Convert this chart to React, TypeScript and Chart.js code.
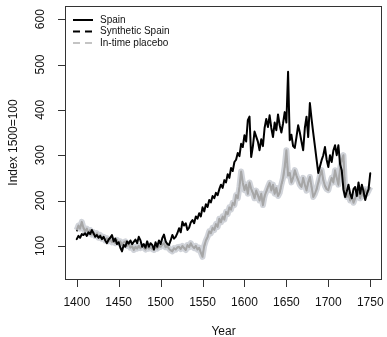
import { useEffect, useRef } from "react";
import { Chart, registerables } from "chart.js";

Chart.register(...registerables);

// Annual index series, sampled every second year from 1400 to 1750 (1500 = 100)
const firstYear = 1400;
const yearStep = 2;

const spain = [
  115, 122, 118, 126, 124,
  128, 122, 130, 126, 135,
  128, 120, 124, 118, 122,
  115, 120, 112, 106, 114,
  118, 124, 110, 116, 104,
  108, 96, 88, 102, 98,
  110, 105, 112, 104, 109,
  114, 106, 120, 112, 98,
  104, 96, 110, 98, 106,
  102, 92, 108, 98, 112,
  104, 117, 125, 110, 104,
  102, 112, 124, 116, 120,
  128, 139, 130, 153, 145,
  150, 135, 140, 152, 157,
  150, 165, 160, 172, 165,
  185, 176, 192, 186, 201,
  196, 210, 205, 217, 212,
  225, 235, 228, 245, 240,
  258, 250, 272, 265, 285,
  290, 305, 298, 325, 318,
  344, 330, 377, 385, 296,
  319, 352, 341, 330, 311,
  335, 320, 360, 380, 362,
  388, 360, 340, 372, 355,
  390, 366, 350, 370, 395,
  372, 484, 333, 345, 320,
  316, 340, 366, 350, 330,
  311, 360, 385, 340, 415,
  380, 349, 320, 290, 261,
  275, 289, 300, 318, 290,
  274, 300, 285, 310, 322,
  300, 322, 280, 267, 225,
  208, 220, 235, 215, 205,
  225, 230, 210, 240, 215,
  235, 220, 201, 215, 225,
  260,
];

const syntheticSpain = [
  132, 142, 140, 150, 138,
  134, 136, 130, 132, 127,
  128, 124, 126, 120, 122,
  118, 118, 114, 115, 112,
  112, 110, 110, 108, 111,
  108, 108, 104, 106, 108,
  102, 102, 98, 99, 93,
  96, 95, 98, 96, 97,
  95, 93, 97, 95, 96,
  94, 92, 96, 95, 99,
  99, 101, 104, 98, 99,
  95, 91, 90, 94, 93,
  96, 97, 94, 98, 96,
  93, 100, 98, 104, 100,
  96, 99, 93, 95, 87,
  80, 98, 110, 118, 130,
  130, 138, 136, 146, 144,
  157, 154, 163, 160, 172,
  172, 182, 182, 192, 192,
  208, 207, 228, 255, 238,
  225, 232, 218, 237, 227,
  216, 207, 220, 212, 203,
  212, 193, 208, 219, 228,
  236, 224, 232, 217, 226,
  212, 218, 232, 248, 272,
  300, 258, 259, 242, 249,
  263, 254, 246, 236, 232,
  247, 236, 225, 238, 249,
  230, 211, 215, 224, 237,
  252, 262, 246, 234, 227,
  225, 236, 247, 241, 263,
  249, 237, 267, 285, 295,
  228, 210, 214, 203, 210,
  198, 205, 213, 215, 207,
  218, 211, 222, 216, 221,
  228,
];

const placebo = [
  135, 145, 138, 153, 140,
  132, 138, 128, 135, 125,
  130, 122, 128, 118, 124,
  116, 120, 112, 117, 110,
  114, 108, 112, 106, 113,
  106, 110, 102, 108, 110,
  100, 104, 96, 100, 91,
  98, 94, 100, 95, 99,
  96, 92, 99, 94, 97,
  93, 91, 98, 94, 100,
  98, 103, 106, 97, 100,
  94, 90, 88, 95, 92,
  97, 98, 93, 100, 95,
  91, 102, 97, 106, 99,
  95, 100, 92, 96, 85,
  76, 100, 112, 120, 132,
  128, 140, 135, 148, 142,
  160, 152, 165, 158, 175,
  170, 185, 180, 195, 190,
  212, 205, 230, 264, 240,
  223, 235, 215, 240, 226,
  217, 205, 222, 212, 200,
  215, 190, 210, 220, 230,
  239, 222, 235, 215, 228,
  210, 217, 235, 250, 275,
  311, 255, 261, 240, 250,
  267, 255, 245, 235, 230,
  250, 235, 222, 240, 252,
  230, 208, 215, 225, 240,
  255, 267, 245, 232, 225,
  223, 238, 250, 240, 267,
  250, 235, 270, 290, 300,
  225, 208, 215, 200, 210,
  195, 205, 215, 217, 205,
  220, 210, 225, 215, 222,
  230,
];

const xTicks = [1400, 1450, 1500, 1550, 1600, 1650, 1700, 1750];
const yTicks = [100, 200, 300, 400, 500, 600];
const xTitle = "Year";
const yTitle = "Index 1500=100";
const legendLabels = ["Spain", "Synthetic Spain", "In-time placebo"];

const FONT = '"Liberation Sans", Arial, Helvetica, sans-serif';

const years = spain.map((_, i) => firstYear + i * yearStep);
const toPoints = (vals: number[]) => vals.map((y, i) => ({ x: years[i], y }));

// Base-graphics look: framed plot box, outward ticks, rotated y labels, legend
const baseGraphics = {
  id: "baseGraphics",
  afterDraw(chart: any) {
    const { ctx, chartArea: a, scales } = chart;
    const xs = scales.x;
    const ys = scales.y;
    ctx.save();

    ctx.strokeStyle = "#333";
    ctx.lineWidth = 1;
    ctx.setLineDash([]);
    const L = Math.round(a.left);
    const T = Math.round(a.top);
    const R = Math.round(a.right);
    const B = Math.round(a.bottom);
    ctx.strokeRect(L + 0.5, T + 0.5, R - L - 1, B - T);

    ctx.beginPath();
    for (const t of xTicks) {
      const px = Math.round(xs.getPixelForValue(t)) + 0.5;
      ctx.moveTo(px, B);
      ctx.lineTo(px, B + 8);
    }
    for (const t of yTicks) {
      const py = Math.round(ys.getPixelForValue(t)) + 0.5;
      ctx.moveTo(L, py);
      ctx.lineTo(L - 7, py);
    }
    ctx.stroke();

    ctx.fillStyle = "#111";
    ctx.font = `12px ${FONT}`;
    ctx.textAlign = "center";
    ctx.textBaseline = "middle";
    for (const t of xTicks) {
      ctx.fillText(String(t), xs.getPixelForValue(t), B + 24);
    }
    for (const t of yTicks) {
      ctx.save();
      ctx.translate(L - 24, ys.getPixelForValue(t));
      ctx.rotate(-Math.PI / 2);
      ctx.fillText(String(t), 0, 0);
      ctx.restore();
    }

    ctx.fillText(xTitle, (a.left + a.right) / 2, B + 53);
    ctx.save();
    ctx.translate(L - 51, (a.top + a.bottom) / 2);
    ctx.rotate(-Math.PI / 2);
    ctx.fillText(yTitle, 0, 0);
    ctx.restore();

    // legend
    const styles = [
      { color: "#000", dash: [] as number[] },
      { color: "#000", dash: [7, 5] },
      { color: "#c4c4c4", dash: [7, 5] },
    ];
    ctx.font = `10px ${FONT}`;
    ctx.textAlign = "left";
    ctx.lineWidth = 2;
    legendLabels.forEach((label, i) => {
      const y = T + 14 + i * 11.5;
      ctx.strokeStyle = styles[i].color;
      ctx.setLineDash(styles[i].dash);
      ctx.beginPath();
      ctx.moveTo(L + 8, y);
      ctx.lineTo(L + 28, y);
      ctx.stroke();
      ctx.fillStyle = "#111";
      ctx.fillText(label, L + 35, y);
    });

    ctx.restore();
  },
};

export default function App() {
  const canvasRef = useRef<HTMLCanvasElement | null>(null);

  useEffect(() => {
    document.body.style.margin = "0";
    const canvas = canvasRef.current;
    if (!canvas) return;
    const chart = new Chart(canvas, {
      type: "line",
      data: {
        datasets: [
          {
            label: legendLabels[0],
            data: toPoints(spain),
            borderColor: "#000",
            borderWidth: 2,
            borderJoinStyle: "round",
            borderCapStyle: "round",
            pointRadius: 0,
            tension: 0,
          },
          {
            label: legendLabels[2],
            data: toPoints(placebo),
            borderColor: "#a6a6a6",
            borderWidth: 2,
            borderJoinStyle: "round",
            pointRadius: 0,
            tension: 0,
          },
          {
            label: legendLabels[2] + " band",
            data: toPoints(placebo),
            borderColor: "rgba(200,203,210,0.85)",
            borderWidth: 6,
            borderJoinStyle: "round",
            pointRadius: 0,
            tension: 0,
          },
          {
            label: legendLabels[1],
            data: toPoints(syntheticSpain),
            borderColor: "#000",
            borderWidth: 1.5,
            borderDash: [4, 4],
            pointRadius: 0,
            tension: 0,
          },
        ],
      },
      options: {
        animation: false,
        responsive: false,
        devicePixelRatio: 1,
        parsing: false,
        layout: { padding: { top: 6, right: 5, left: 0, bottom: 0 } },
        plugins: {
          legend: { display: false },
          tooltip: { enabled: false },
        },
        scales: {
          x: {
            type: "linear",
            min: 1386,
            max: 1764,
            grid: { display: false, drawTicks: false },
            border: { display: false },
            ticks: { display: false },
            afterFit: (s: any) => {
              s.height = 58;
            },
          },
          y: {
            type: "linear",
            min: 27,
            max: 629,
            grid: { display: false, drawTicks: false },
            border: { display: false },
            ticks: { display: false },
            afterFit: (s: any) => {
              s.width = 65;
            },
          },
        },
      },
      plugins: [baseGraphics],
    } as any);
    return () => chart.destroy();
  }, []);

  return (
    <div style={{ width: 387, height: 337 }}>
      <canvas ref={canvasRef} width={387} height={337} style={{ display: "block" }} />
    </div>
  );
}
